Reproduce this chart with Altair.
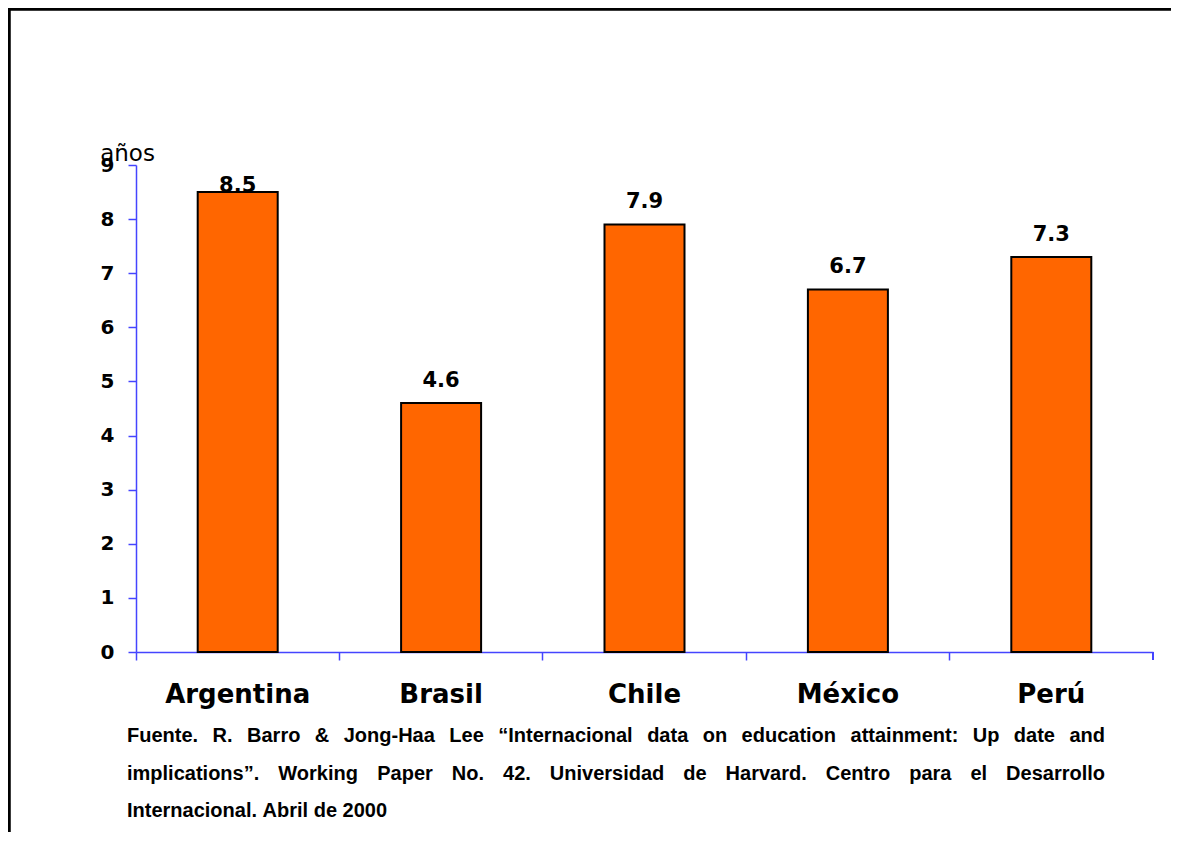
import altair as alt
import pandas as pd

# ---- data ----
countries = ["Argentina", "Brasil", "Chile", "México", "Perú"]
years = [8.5, 4.6, 7.9, 6.7, 7.3]
y_ticks = [0, 1, 2, 3, 4, 5, 6, 7, 8, 9]
y_title = "años"
footnote_lines = [
    "Fuente. R. Barro & Jong-Haa Lee “Internacional data on education attainment: Up date and",
    "implications”. Working Paper No. 42. Universidad de Harvard. Centro para el Desarrollo",
    "Internacional. Abril de 2000",
]
footnote_justify = [True, True, False]

# ---- layout ----
W, H = 1017, 487
PAD_L, PAD_T, PAD_R, PAD_B = 128, 157, 18, 180
BLUE = "#4444ff"
ORANGE = "#FF6600"
CHART_FONT = "DejaVu Sans"
NOTE_FONT = "Liberation Sans"
NOTE_SIZE = 20
NOTE_LEFT = -9
NOTE_WIDTH = 978
NOTE_BASE = [H + 90, H + 128, H + 165]

# Arial/Helvetica Bold advance widths (per 1000 em) for justification
_w = {" ": 278, ".": 278, ",": 278, ":": 333, "&": 722, "-": 333, "“": 500, "”": 500,
      "'": 278, '"': 474}
for c in "0123456789":
    _w[c] = 556
_w.update(dict(zip("ABCDEFGHIJKLMNOPQRSTUVWXYZ",
                   [722, 722, 722, 722, 667, 611, 778, 722, 278, 556, 722, 611, 833,
                    722, 778, 667, 778, 722, 667, 611, 722, 667, 944, 667, 667, 611])))
_w.update(dict(zip("abcdefghijklmnopqrstuvwxyz",
                   [556, 611, 556, 611, 556, 333, 611, 611, 278, 278, 556, 278, 889,
                    611, 611, 611, 611, 389, 556, 333, 611, 556, 778, 556, 556, 500])))


def text_width(s):
    return sum(_w.get(ch, 556) for ch in s) * NOTE_SIZE / 1000.0


rows = []
for line, just, base_y in zip(footnote_lines, footnote_justify, NOTE_BASE):
    words = line.split(" ")
    widths = [text_width(w) for w in words]
    if just and len(words) > 1:
        gap = (NOTE_WIDTH - sum(widths)) / (len(words) - 1)
    else:
        gap = text_width(" ")
    x = NOTE_LEFT
    for w, wd in zip(words, widths):
        rows.append({"w": w, "px": x, "py": base_y})
        x += wd + gap
notes = pd.DataFrame(rows)

df = pd.DataFrame({"pais": countries, "anos": years})

x_scale = alt.Scale(paddingInner=0, paddingOuter=0)
y_scale = alt.Scale(domain=[0, 9], nice=False)

bars = alt.Chart(df).mark_bar(color=ORANGE, stroke="black", strokeWidth=2, size=80).encode(
    x=alt.X("pais:N", sort=countries, scale=x_scale,
            axis=alt.Axis(title=None, labelAngle=0, labelFont=CHART_FONT, labelFontSize=26,
                          labelFontWeight="bold", labelColor="black", labelPadding=21,
                          bandPosition=0, tickSize=8, tickColor=BLUE,
                          tickWidth=1.5, domainColor=BLUE, domainWidth=1.5)),
    y=alt.Y("anos:Q", scale=y_scale,
            axis=alt.Axis(values=y_ticks, title=y_title, titleAngle=0, titleX=-9, titleY=-5,
                          titleAlign="center", titleBaseline="alphabetic", titleFont=CHART_FONT,
                          titleFontSize=23, titleFontWeight="normal", titleColor="black",
                          labelFont=CHART_FONT, labelFontSize=20, labelFontWeight="bold",
                          labelColor="black", labelPadding=14, labelFlush=False,
                          labelOverlap=False, tickSize=8, tickColor=BLUE, tickWidth=1.5,
                          domainColor=BLUE, domainWidth=1.5, grid=False)),
)

labels = alt.Chart(df).transform_calculate(
    ly="min(datum.anos + 0.3, 8.5)"
).mark_text(font=CHART_FONT, fontSize=21, fontWeight="bold", baseline="alphabetic",
            color="black").encode(
    x=alt.X("pais:N", sort=countries, scale=x_scale, axis=None),
    y=alt.Y("ly:Q", scale=y_scale, axis=None),
    text=alt.Text("anos:Q", format=".1f"),
)

end_tick = alt.Chart(df).mark_rule(color=BLUE, strokeWidth=1.5).encode(
    x=alt.value(W), y=alt.value(H), y2=alt.value(H + 8))

frame_left = alt.Chart(df).mark_rule(color="black", strokeWidth=2.5).encode(
    x=alt.value(-127), y=alt.value(-157), y2=alt.value(H + PAD_B))
frame_top = alt.Chart(df).mark_rule(color="black", strokeWidth=2.5).encode(
    y=alt.value(-156), x=alt.value(-128), x2=alt.value(W + PAD_R))

note = alt.Chart(notes).mark_text(align="left", baseline="alphabetic", font=NOTE_FONT,
                                  fontSize=NOTE_SIZE, fontWeight="bold", color="black").encode(
    x=alt.X("px:Q", scale=None, axis=None),
    y=alt.Y("py:Q", scale=None, axis=None),
    text="w:N",
)

chart = alt.layer(bars, labels, end_tick, frame_left, frame_top, note).resolve_scale(
    x="independent", y="independent"
).properties(
    width=W, height=H,
    padding={"left": PAD_L, "top": PAD_T, "right": PAD_R, "bottom": PAD_B},
    autosize=alt.AutoSizeParams(type="none"),
    background="white",
).configure_view(stroke=None)

chart.save("out.html", embed_options={"renderer": "svg", "actions": False})
